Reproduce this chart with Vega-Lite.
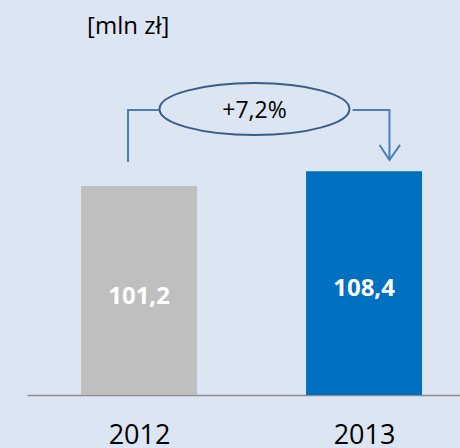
{
  "$schema": "https://vega.github.io/schema/vega-lite/v6.json",
  "width": 433,
  "height": 345,
  "autosize": {"type": "none"},
  "padding": {"left": 27, "top": 50, "right": 0, "bottom": 53},
  "background": "#dce6f2",
  "config": {"view": {"stroke": null}, "font": "Open Sans"},
  "datasets": {
    "bars": [
      {"year": 2012, "value": 101.2, "label": "101,2", "kind": "a"},
      {"year": 2013, "value": 108.4, "label": "108,4", "kind": "b"}
    ],
    "connector": [
      {"path": "left", "order": 1, "x": 2011.951, "y": 112.8},
      {"path": "left", "order": 2, "x": 2011.951, "y": 138.0},
      {"path": "left", "order": 3, "x": 2012.091, "y": 138.0},
      {"path": "right", "order": 1, "x": 2012.949, "y": 138.0},
      {"path": "right", "order": 2, "x": 2013.113, "y": 138.0},
      {"path": "right", "order": 3, "x": 2013.113, "y": 113.8},
      {"path": "head", "order": 1, "x": 2013.069, "y": 121.1},
      {"path": "head", "order": 2, "x": 2013.113, "y": 113.8},
      {"path": "head", "order": 3, "x": 2013.160, "y": 121.1}
    ],
    "change": [{"x": 2012.513, "y": 138.5, "label": "+7,2%"}],
    "unit": [{"x": 2011.769, "y": 178.0, "label": "[mln zł]"}]
  },
  "layer": [
    {
      "data": {"name": "bars"},
      "mark": {"type": "bar", "width": 116},
      "encoding": {
        "x": {
          "field": "year",
          "type": "quantitative",
          "scale": {"domain": [2011.502, 2013.4264], "nice": false, "zero": false, "padding": 0},
          "axis": {
            "values": [2012, 2013],
            "format": "d",
            "title": null,
            "ticks": false,
            "grid": false,
            "domainColor": "#8c8c8c",
            "domainWidth": 1.5,
            "labelFontSize": 27,
            "labelFont": "Open Sans",
            "labelColor": "#000000",
            "labelPadding": 27,
            "labelFlush": false
          }
        },
        "y": {
          "field": "value",
          "type": "quantitative",
          "scale": {"domain": [0, 167.07], "nice": false, "padding": 0},
          "axis": null
        },
        "color": {
          "field": "kind",
          "type": "nominal",
          "scale": {"domain": ["a", "b"], "range": ["#bfbfbf", "#0070c0"]},
          "legend": null
        }
      }
    },
    {
      "data": {"name": "bars"},
      "transform": [{"calculate": "datum.value / 2", "as": "mid"}],
      "mark": {"type": "text", "color": "#ffffff", "fontWeight": "bold", "fontSize": 24, "font": "Open Sans", "baseline": "middle", "dy": 6},
      "encoding": {
        "x": {"field": "year", "type": "quantitative"},
        "y": {"field": "mid", "type": "quantitative"},
        "text": {"field": "label"}
      }
    },
    {
      "data": {"name": "connector"},
      "mark": {"type": "line", "color": "#4a7ebb", "strokeWidth": 2},
      "encoding": {
        "x": {"field": "x", "type": "quantitative"},
        "y": {"field": "y", "type": "quantitative"},
        "detail": {"field": "path"},
        "order": {"field": "order"}
      }
    },
    {
      "data": {"name": "change"},
      "mark": {
        "type": "point",
        "shape": "M-1,0 A1,0.274 0 1,1 1,0 A1,0.274 0 1,1 -1,0 Z",
        "size": 36100,
        "filled": false,
        "stroke": "#385d8a",
        "strokeWidth": 2,
        "opacity": 1
      },
      "encoding": {
        "x": {"field": "x", "type": "quantitative"},
        "y": {"field": "y", "type": "quantitative"}
      }
    },
    {
      "data": {"name": "change"},
      "mark": {"type": "text", "fontSize": 23, "font": "Open Sans", "color": "#000000", "baseline": "middle", "dy": 2},
      "encoding": {
        "x": {"field": "x", "type": "quantitative"},
        "y": {"field": "y", "type": "quantitative"},
        "text": {"field": "label"}
      }
    },
    {
      "data": {"name": "unit"},
      "mark": {"type": "text", "fontSize": 24, "font": "Open Sans", "color": "#000000", "baseline": "middle", "align": "left"},
      "encoding": {
        "x": {"field": "x", "type": "quantitative"},
        "y": {"field": "y", "type": "quantitative"},
        "text": {"field": "label"}
      }
    }
  ]
}
